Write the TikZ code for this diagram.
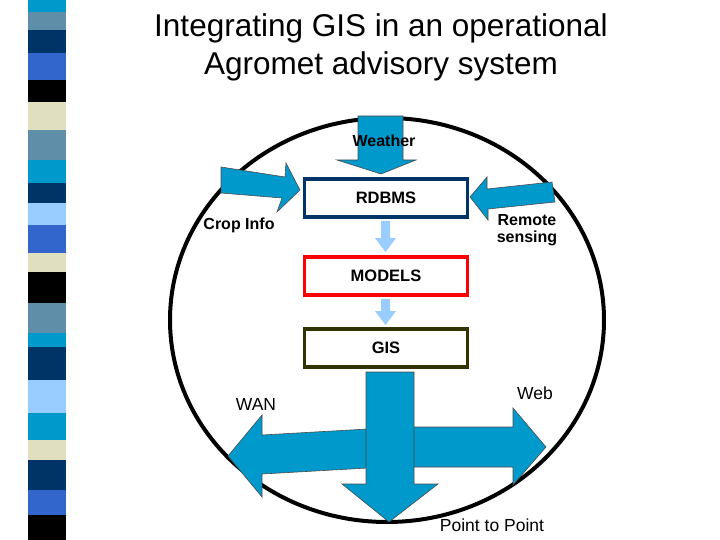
\documentclass[tikz,border=0pt]{standalone}
\usepackage{fontspec}
\setmainfont{Liberation Sans}
\begin{document}
\begin{tikzpicture}[x=1pt,y=-1pt,
  bigarrow/.style={fill=arrowblue,draw=black!70,line width=0.6pt},
  smallarrow/.style={fill=lightblue,draw=none},
  box/.style={draw,line width=3.5pt,fill=white,minimum width=163pt,minimum height=38pt,font=\fontsize{16.5}{18}\selectfont\bfseries},
  lbl/.style={font=\fontsize{16}{16}\selectfont\bfseries,align=center},
  lbln/.style={font=\fontsize{17.5}{18}\selectfont,align=center}]
\definecolor{arrowblue}{RGB}{0,153,204}
\definecolor{lightblue}{RGB}{153,204,255}
\definecolor{steel}{RGB}{95,143,168}
\definecolor{navyb}{RGB}{0,51,102}
\definecolor{royal}{RGB}{51,102,204}
\definecolor{cream}{RGB}{224,224,192}
\definecolor{olive}{RGB}{51,51,0}
\useasboundingbox[fill=white] (0,0) rectangle (720,540);
% stripe
\foreach \a/\b/\c in {0/12/arrowblue,12/30/steel,30/53/navyb,53/80/royal,80/102/black,102/130/cream,130/160/steel,160/183/arrowblue,183/203/navyb,203/225/lightblue,225/253/royal,253/272/cream,272/303/black,303/333/steel,333/347/arrowblue,347/380/navyb,380/413/lightblue,413/440/arrowblue,440/460/cream,460/490/navyb,490/515/royal,515/540/black}
  \fill[\c] (28,\a) rectangle (66,\b);
% title
\node[font=\fontsize{31.5}{38}\selectfont,align=center] (title) at (381,47) {Integrating GIS in an operational\\Agromet advisory system};
% ellipse
\draw[line width=4pt] (387,320) ellipse [x radius=217, y radius=202];
% weather arrow
\filldraw[bigarrow] (358,116) -- (403,116) -- (403,160) -- (416,160) -- (381,174) -- (337,160) -- (358,160) -- cycle;
\node[lbl] (weather) at (384,141) {Weather};
% crop info arrow
\filldraw[bigarrow] (221,167) -- (285,177) -- (286,163) -- (300,190) -- (277,212) -- (282,198) -- (221,193) -- cycle;
% remote sensing arrow
\filldraw[bigarrow] (552,182) -- (487,189) -- (487,177) -- (470,197) -- (488,220) -- (488,209) -- (555,202) -- cycle;
\node[lbl] (crop) at (239,225) {Crop Info};
\node[lbl,font=\fontsize{16}{17}\selectfont\bfseries] (remote) at (527,230) {Remote\\sensing};
% boxes
\node[box,draw=navyb] (rdbms) at (386,198) {RDBMS};
\node[box,draw=red] (models) at (386,276) {MODELS};
\node[box,draw=olive] (gis) at (386,348) {GIS};
% small arrows
\fill[smallarrow] (381,221) -- (390,221) -- (390,238) -- (396,238) -- (385.5,252) -- (375,238) -- (381,238) -- cycle;
\fill[smallarrow] (381,299) -- (390,299) -- (390,311) -- (396,311) -- (385.5,325) -- (375,311) -- (381,311) -- cycle;
% bottom arrows
\filldraw[bigarrow] (368,429) -- (262,435) -- (262,415) -- (228,456) -- (262,497) -- (262,474) -- (368,468) -- cycle;
\filldraw[bigarrow] (410,427) -- (513,427) -- (513,408) -- (546,447) -- (513,485) -- (513,467) -- (410,467) -- cycle;
\filldraw[bigarrow] (366,372) -- (414,372) -- (414,484) -- (438,484) -- (389,522) -- (342,484) -- (366,484) -- cycle;
\node[lbln] (wan) at (256,404) {WAN};
\node[lbln] (web) at (535,393) {Web};
\node[lbln] (p2p) at (492,525) {Point to Point};
\end{tikzpicture}
\end{document}
